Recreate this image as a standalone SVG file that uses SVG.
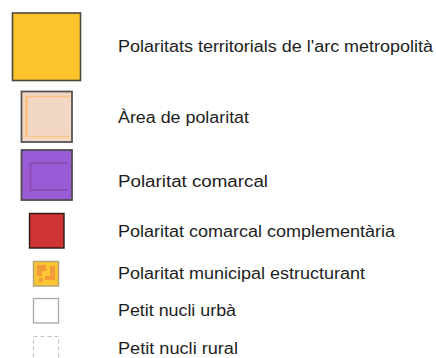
<svg xmlns="http://www.w3.org/2000/svg" width="436" height="358" viewBox="0 0 436 358">
<style>
  .lbl { font-family: "Liberation Sans", Arial, sans-serif; font-size: 16px; fill: #1e1e1e; }
</style>
<rect width="436" height="358" fill="#ffffff"/>
<g id="n1">
  <rect x="12.5" y="13" width="68" height="67.5" fill="#fcc42a" stroke="#4a4a3a" stroke-width="1.6"/>
  <text class="lbl" x="118" y="52" textLength="315" lengthAdjust="spacingAndGlyphs">Polaritats territorials de l'arc metropolità</text>
</g>
<g id="n2">
  <rect x="21.5" y="91.5" width="50.5" height="50.5" fill="#f2d7c4" stroke="#555" stroke-width="1.8"/>
  <path d="M26.5 137 V96.5 H70 M26.5 136.5 H70" fill="none" stroke="#fcc283" stroke-width="1.6"/>
  <path d="M26.5 137 V96.5" fill="none" stroke="#fcc283" stroke-width="2.4"/>
  <text class="lbl" x="118" y="123" textLength="131" lengthAdjust="spacingAndGlyphs">Àrea de polaritat</text>
</g>
<g id="n3">
  <rect x="21.5" y="150" width="50.5" height="50" fill="#9b5ad6" stroke="#4e4e4e" stroke-width="1.8"/>
  <path d="M67 163 H30.5 V190 H67" fill="none" stroke="#8a4aa8" stroke-width="1.6"/>
  <text class="lbl" x="118" y="187" textLength="150" lengthAdjust="spacingAndGlyphs">Polaritat comarcal</text>
</g>
<g id="n4">
  <rect x="29.5" y="213.5" width="34.5" height="34.5" fill="#cf3332" stroke="#2a1a1a" stroke-width="1.4"/>
  <text class="lbl" x="118" y="237" textLength="277" lengthAdjust="spacingAndGlyphs">Polaritat comarcal complementària</text>
</g>
<g id="n5">
  <rect x="33.5" y="261.5" width="25" height="24.5" fill="#fbc531" stroke="#b4a47a" stroke-width="1.5"/>
  <path d="M37 265 h9 v6 h-4 v5 h-5 z" fill="#f39a3a"/>
  <path d="M50 266 h5 v14 h-10 v-4 h5 z" fill="#f39a3a"/>
  <path d="M39 278 h4 v4 h-4 z" fill="#f39a3a"/>
  <text class="lbl" x="118" y="279" textLength="247" lengthAdjust="spacingAndGlyphs">Polaritat municipal estructurant</text>
</g>
<g id="n6">
  <rect x="33.5" y="298.5" width="25" height="24.5" fill="#ffffff" stroke="#a8a8a8" stroke-width="1.3"/>
  <text class="lbl" x="118" y="316" textLength="118" lengthAdjust="spacingAndGlyphs">Petit nucli urbà</text>
</g>
<g id="n7">
  <rect x="33.5" y="336.5" width="25" height="24" fill="#ffffff" stroke="#c4c4c4" stroke-width="1.2" stroke-dasharray="4 3"/>
  <text class="lbl" x="118" y="354" textLength="120" lengthAdjust="spacingAndGlyphs">Petit nucli rural</text>
</g>
<g id="connectors"></g>
</svg>
